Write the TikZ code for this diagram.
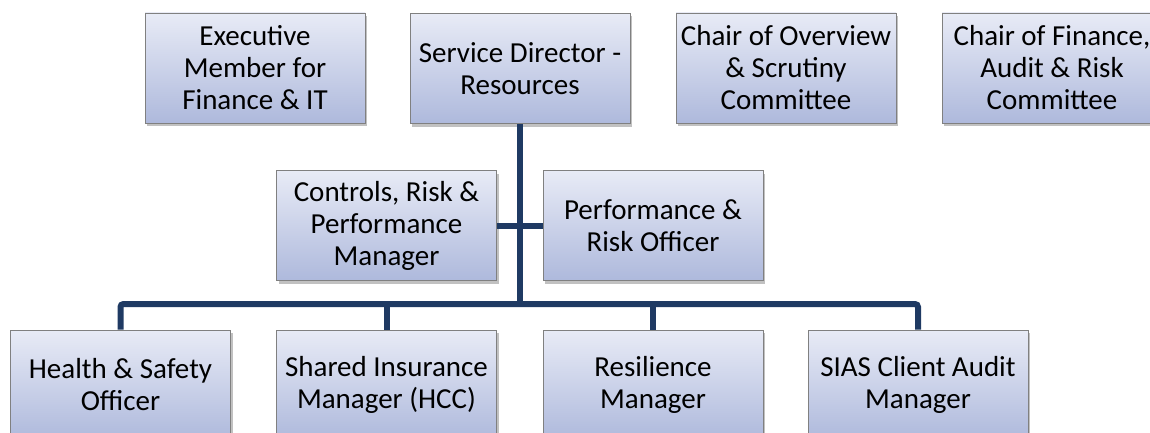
\documentclass[tikz,border=0pt]{standalone}
\usepackage{fontspec}
\setmainfont{Carlito}
\usetikzlibrary{shadows}
\definecolor{boxtop}{HTML}{E8EBF6}
\definecolor{boxbot}{HTML}{AEB9DC}
\definecolor{linkblue}{HTML}{1F3A63}
\begin{document}
\begin{tikzpicture}[x=1pt,y=-1pt]
      \tikzstyle{post}=[draw=black!50,line width=0.8pt,top color=boxtop,bottom color=boxbot,
        minimum width=220pt,minimum height=110pt,inner sep=0pt,align=center,
        font=\fontsize{29}{32}\selectfont,
        drop shadow={shadow xshift=2pt,shadow yshift=-3pt,opacity=0.35,fill=black!70}]
      \tikzstyle{link}=[draw=linkblue,line width=6pt,rounded corners=3pt]

      \clip (0,0) rectangle (1150,433);

      \node[post] (exec) at (255,68) {Executive\\Member for\\Finance \& IT};
      \node[post] (director) at (520,68.5) {Service Director -\\Resources};
      \node[post] (overview) at (786,68) {Chair of Overview\\\& Scrutiny\\Committee};
      \node[post] (audit) at (1052,68) {Chair of Finance,\\Audit \& Risk\\Committee};

      \node[post] (controls) at (386.5,225.5) {Controls, Risk \&\\Performance\\Manager};
      \node[post] (perf) at (653,225.5) {Performance \&\\Risk Officer};

      \node[post] (safety) at (120.5,385) {Health \& Safety\\Officer};
      \node[post] (insurance) at (386.5,385) {Shared Insurance\\Manager (HCC)};
      \node[post] (resilience) at (653,385) {Resilience\\Manager};
      \node[post] (sias) at (918,385) {SIAS Client Audit\\Manager};

      \coordinate (bus) at (520,304);

      \draw[link] (director) -- (bus);
      \draw[link] (controls) -- (perf);
      \draw[link] (safety) |- (bus) -| (sias);
      \draw[link] (insurance) -- (insurance |- bus);
      \draw[link] (resilience) -- (resilience |- bus);
\end{tikzpicture}
\end{document}
